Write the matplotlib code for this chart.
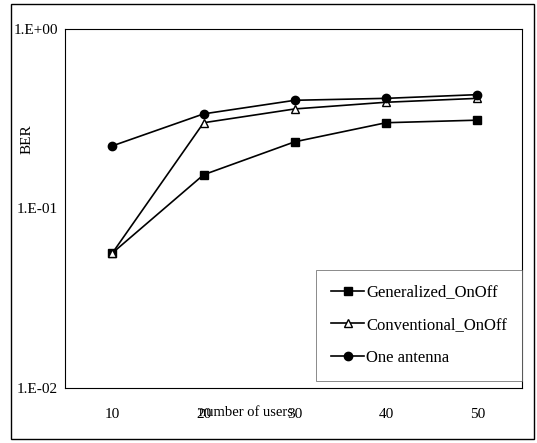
import numpy as np
import matplotlib
matplotlib.use("Agg")
import matplotlib.pyplot as plt
from matplotlib.patches import Rectangle

plt.rcParams["font.family"] = ["Liberation Serif", "DejaVu Serif"]

users = [10, 20, 30, 40, 50]
ber_generalized = [0.0565, 0.154, 0.235, 0.30, 0.31]
ber_conventional = [0.0565, 0.30, 0.358, 0.39, 0.41]
ber_one_antenna = [0.223, 0.336, 0.40, 0.41, 0.43]
y_ticks = [1e-2, 1e-1, 1e0]
y_ticklabels = ["1.E-02", "1.E-01", "1.E+00"]

fig = plt.figure(figsize=(5.37, 4.43), dpi=100)
ax = fig.add_axes([0.121, 0.124, 0.851, 0.811])

ax.plot(users, ber_generalized, color="black", lw=1.2, marker="s", ms=6,
        mfc="black", label="Generalized_OnOff")
ax.plot(users, ber_conventional, color="black", lw=1.2, marker="^", ms=6,
        mfc="white", mec="black", label="Conventional_OnOff")
ax.plot(users, ber_one_antenna, color="black", lw=1.2, marker="o", ms=6,
        mfc="black", label="One antenna")

ax.set_yscale("log")
ax.set_ylim(1e-2, 1e0)
ax.set_xlim(4.8, 54.9)
ax.set_yticks(y_ticks)
ax.set_yticklabels(y_ticklabels)
ax.yaxis.set_minor_locator(matplotlib.ticker.NullLocator())
ax.set_xticks(users)
ax.tick_params(length=0, labelsize=11)
ax.tick_params(axis="y", pad=5)
ax.tick_params(axis="x", pad=14)
for s in ax.spines.values():
    s.set_linewidth(0.8)

fig.text(0.458, 0.068, "number of users", fontsize=10.5, ha="center", va="center")
fig.text(0.05, 0.685, "BER", fontsize=11, rotation=90, ha="center", va="center")

leg = ax.legend(loc="lower right", bbox_to_anchor=(1.0, 0.02), fontsize=12,
                frameon=True, fancybox=False, edgecolor="#555555",
                handlelength=2.0, handletextpad=0.1, borderaxespad=0,
                borderpad=0.9, labelspacing=1.0)
leg.get_frame().set_linewidth(0.6)

fig.patches.append(Rectangle((0.02, 0.01), 0.975, 0.98, transform=fig.transFigure,
                             fill=False, edgecolor="black", lw=1.0))

fig.savefig("out.png", dpi=100)
